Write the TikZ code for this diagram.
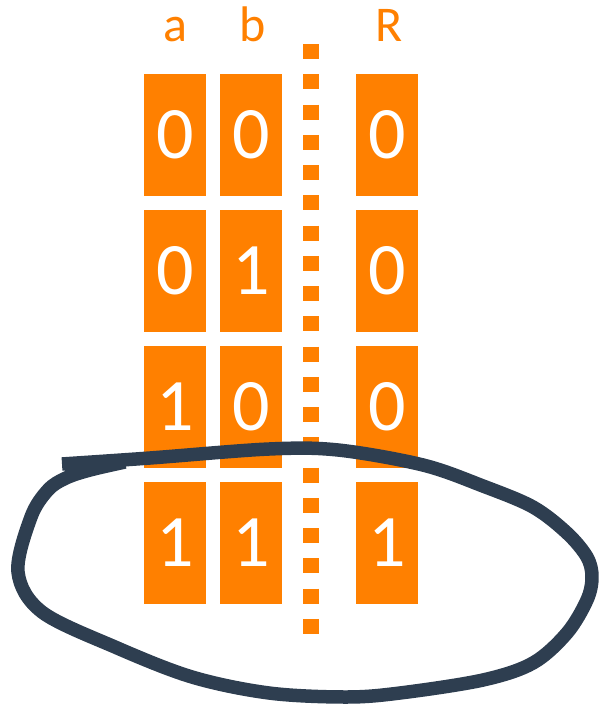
\documentclass[tikz,border=0pt]{standalone}
\usepackage{fontspec}
\setmainfont{Carlito}
\definecolor{truthorange}{HTML}{FF8000}
\definecolor{inkslate}{HTML}{2E3E50}
\begin{document}
\begin{tikzpicture}[x=1pt,y=-1pt,
  bitbox/.style={fill=truthorange,draw=none,minimum width=62pt,minimum height=122pt,
    inner sep=0pt,text=white,font=\fontsize{74}{74}\selectfont},
  colhead/.style={text=truthorange,anchor=base,inner sep=0pt,font=\fontsize{50}{50}\selectfont},
  divider/.style={draw=truthorange,line width=15.5pt,dash pattern=on 15pt off 15.26pt},
  loop/.style={draw=inkslate,line width=13.5pt,line cap=butt,line join=round}]
\useasboundingbox (0,0) rectangle (599,707);

% column headings
\node[colhead] (la) at (175,41) {a};
\node[colhead] (lb) at (253,41) {b};
\node[colhead] (lr) at (389,41) {R};

% input columns a, b and result column R
\node[bitbox] (a1) at (175,135) {0};
\node[bitbox] (b1) at (251,135) {0};
\node[bitbox] (r1) at (387,135) {0};
\node[bitbox] (a2) at (175,271) {0};
\node[bitbox] (b2) at (251,271) {1};
\node[bitbox] (r2) at (387,271) {0};
\node[bitbox] (a3) at (175,407) {1};
\node[bitbox] (b3) at (251,407) {0};
\node[bitbox] (r3) at (387,407) {0};
\node[bitbox] (a4) at (175,543) {1};
\node[bitbox] (b4) at (251,543) {1};
\node[bitbox] (r4) at (387,543) {1};

% separator between inputs and result
\coordinate (sepTop) at (311,44);
\coordinate (sepBot) at (311,634);
\draw[divider] (sepTop) -- (sepBot);

% hand-drawn loop around the last row
\draw[loop] plot[smooth,tension=0.55] coordinates {
  (62,464) (150,458) (269,449) (338,450) (423,465) (483,486) (533,507)
  (567,533) (587,557) (592,577) (587,600) (567,633) (533,663) (483,680)
  (400,693) (346,697) (269,693) (192,677) (115,647) (42,612) (18,572)
  (31,517) (48,490) (66,478) (90,470) (125,462)};
\end{tikzpicture}
\end{document}
